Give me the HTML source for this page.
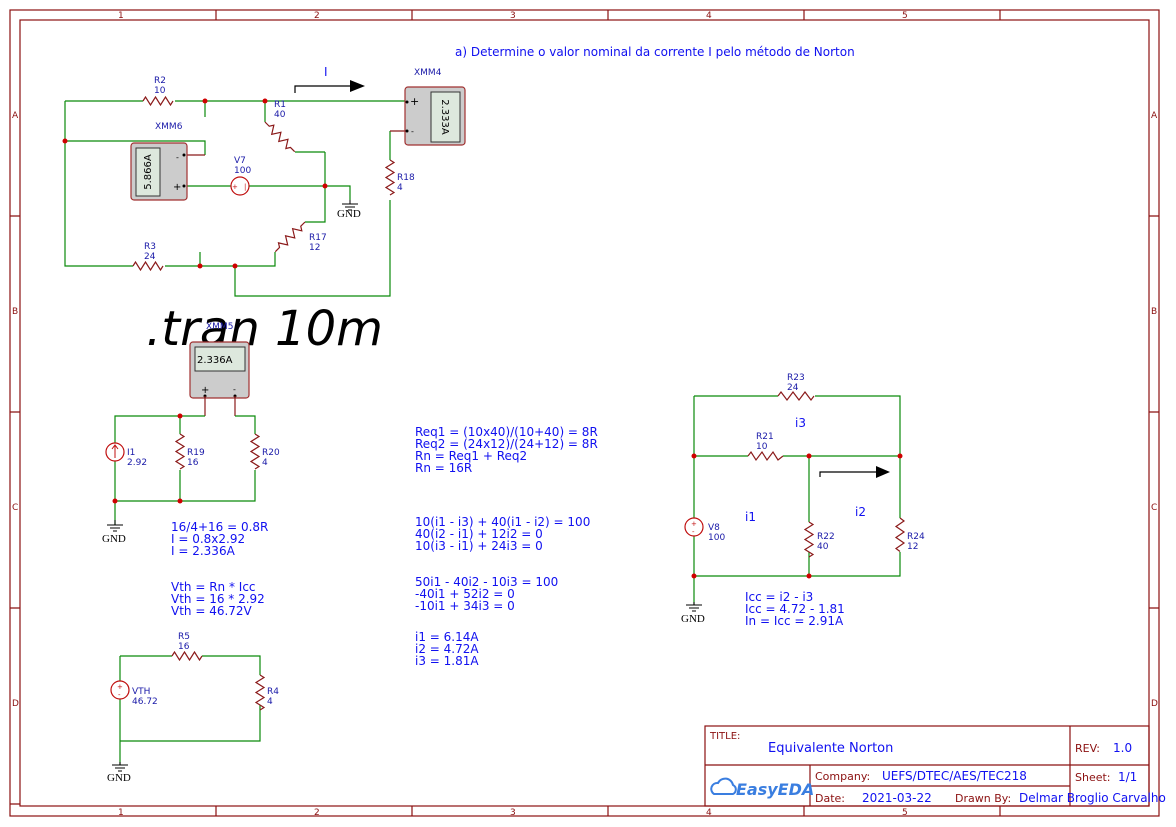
<!DOCTYPE html>
<html><head><meta charset="utf-8"><style>
html,body{margin:0;padding:0;background:#fff;}
svg{display:block;}
text{font-family:"DejaVu Sans","Liberation Sans",sans-serif;}
.lb{fill:#1a1aa8;font-size:9px;}
.bt{fill:#1010f0;font-size:12px;}
.fr{fill:#8b1010;font-size:9px;}
.w{stroke:#0a8a0a;stroke-width:1.2;fill:none;}
.r{stroke:#8b1a1a;stroke-width:1.2;fill:none;}
.d{fill:#d00000;}
.g{font-family:"Liberation Serif",serif;font-size:11px;fill:#000;}
</style></head><body>
<svg width="1176" height="827" viewBox="0 0 1176 827" xmlns="http://www.w3.org/2000/svg">
<g stroke="#8b1010" fill="none" stroke-width="1.2">
<rect x="10" y="10" width="1149" height="806"/>
<rect x="20" y="20" width="1129" height="786"/>
<path d="M216 10V20M412 10V20M608 10V20M804 10V20M1000 10V20M216 806V816M412 806V816M608 806V816M804 806V816M1000 806V816M10 216H20M10 412H20M10 608H20M10 804H20M1149 216H1159M1149 412H1159M1149 608H1159"/>
<rect x="705" y="726" width="444" height="80"/>
<path d="M705 765H1149M810 786H1070M1070 726V806M810 765V806"/>
</g>
<g class="fr">
<text x="118" y="18">1</text><text x="314" y="18">2</text><text x="510" y="18">3</text><text x="706" y="18">4</text><text x="902" y="18">5</text>
<text x="118" y="815">1</text><text x="314" y="815">2</text><text x="510" y="815">3</text><text x="706" y="815">4</text><text x="902" y="815">5</text>
<text x="12" y="118">A</text><text x="12" y="314">B</text><text x="12" y="510">C</text><text x="12" y="706">D</text>
<text x="1151" y="118">A</text><text x="1151" y="314">B</text><text x="1151" y="510">C</text><text x="1151" y="706">D</text>
<text x="710" y="739" font-size="10">TITLE:</text>
<text x="1075" y="752" font-size="11">REV:</text>
<text x="1075" y="781" font-size="11">Sheet:</text>
<text x="815" y="780" font-size="11">Company:</text>
<text x="815" y="802" font-size="11">Date:</text>
<text x="955" y="802" font-size="11">Drawn By:</text>
</g>
<g fill="#1010f0" font-size="12">
<text x="768" y="752" font-size="13">Equivalente Norton</text>
<text x="1113" y="752">1.0</text>
<text x="1118" y="781">1/1</text>
<text x="882" y="780">UEFS/DTEC/AES/TEC218</text>
<text x="862" y="802">2021-03-22</text>
<text x="1019" y="802">Delmar Broglio Carvalho</text>
</g>
<g fill="none" stroke="#3a7ee0" stroke-width="2"><path d="M714 794a6 6 0 0 1 4-11a8 8 0 0 1 15 2a5 5 0 0 1 0 9z"/></g>
<text x="736" y="795" fill="#3a7ee0" font-size="16" font-style="italic" font-weight="bold">EasyEDA</text>

<text x="455" y="56" class="bt">a) Determine o valor nominal da corrente I pelo método de Norton</text>

<!-- TOP CIRCUIT -->
<path class="w" d="M65 101H143M175 101H405M205 101V117M265 101V122M65 101V266H133M165 266H275V252M200 266V252M235 266V296H390V200M390 160V131M65 141H205V155M325 152V222H305M295 152H325M325 186H350V200M186 186H231M249 186H325"/>
<path class="r" d="M143 101l2.5 -4l5 8l5 -8l5 8l5 -8l5 8l2.5 -4"/>
<path class="r" d="M133 266l2.5 -4l5 8l5 -8l5 8l5 -8l5 8l2.5 -4"/>
<path class="r" d="M390 160l4 2.5l-8 5l8 5l-8 5l8 5l-8 5l8 5l-4 2.5"/>
<path class="r" transform="translate(265,122) rotate(45)" d="M0 0l6 0l2.5 -4l5 8l5 -8l5 8l5 -8l5 8l2.5 -4l6 0"/>
<path class="r" transform="translate(305,222) rotate(135)" d="M0 0l6 0l2.5 -4l5 8l5 -8l5 8l5 -8l5 8l2.5 -4l6 0"/>
<path class="r" d="M182 155H205M182 186H186M390 131H405"/>
<circle class="d" cx="205" cy="101" r="2.5"/><circle class="d" cx="265" cy="101" r="2.5"/><circle class="d" cx="65" cy="141" r="2.5"/>
<circle class="d" cx="325" cy="186" r="2.5"/><circle class="d" cx="200" cy="266" r="2.5"/><circle class="d" cx="235" cy="266" r="2.5"/>
<circle cx="240" cy="186" r="9" fill="#fff" stroke="#c01010" stroke-width="1.2"/>
<text x="232" y="189" fill="#c01010" font-size="7">+</text><text x="244" y="189" fill="#c01010" font-size="7">|</text>
<g stroke="#000" stroke-width="1"><path d="M350 200v4M342 204h16M345 207h10M348 210h4"/></g>
<text x="337" y="217" class="g">GND</text>
<rect x="131" y="143" width="56" height="57" rx="3" fill="#cccccc" stroke="#a03030" stroke-width="1.2"/>
<rect x="136" y="148" width="24" height="48" fill="#dde8dd" stroke="#333"/>
<text transform="translate(151,172) rotate(-90)" text-anchor="middle" font-size="10" fill="#000">5.866A</text>
<circle cx="184" cy="155" r="1.5" fill="#000"/><circle cx="184" cy="186" r="1.5" fill="#000"/>
<text x="176" y="160" font-size="8">-</text><text x="173" y="190" font-size="10">+</text>
<rect x="405" y="87" width="60" height="58" rx="3" fill="#cccccc" stroke="#a03030" stroke-width="1.2"/>
<rect x="431" y="92" width="29" height="50" fill="#dde8dd" stroke="#333"/>
<text transform="translate(442,117) rotate(90)" text-anchor="middle" font-size="10" fill="#000">2.333A</text>
<circle cx="407" cy="102" r="1.5" fill="#000"/><circle cx="407" cy="131" r="1.5" fill="#000"/>
<text x="410" y="105" font-size="11">+</text><text x="411" y="134" font-size="8">-</text>
<path d="M295 93V86H352" stroke="#000" stroke-width="1.2" fill="none"/><path d="M350 80L365 86L350 92z" fill="#000"/>
<text x="324" y="76" class="bt" font-size="11">I</text>
<g class="lb">
<text x="154" y="83">R2</text><text x="154" y="93">10</text>
<text x="155" y="129">XMM6</text>
<text x="234" y="163">V7</text><text x="234" y="173">100</text>
<text x="274" y="107">R1</text><text x="274" y="117">40</text>
<text x="414" y="75">XMM4</text>
<text x="397" y="180">R18</text><text x="397" y="190">4</text>
<text x="309" y="240">R17</text><text x="309" y="250">12</text>
<text x="144" y="249">R3</text><text x="144" y="259">24</text>
</g>

<text x="146" y="345" font-size="48" font-style="italic" fill="#000" textLength="237" lengthAdjust="spacingAndGlyphs">.tran 10m</text>

<text x="206" y="329" class="lb">XMM5</text>
<rect x="190" y="342" width="59" height="56" rx="3" fill="#cccccc" stroke="#a03030" stroke-width="1.2"/>
<rect x="195" y="347" width="50" height="24" fill="#dde8dd" stroke="#333"/>
<text x="197" y="363" font-size="10" fill="#000">2.336A</text>
<text x="201" y="393" font-size="10">+</text><text x="233" y="392" font-size="8">-</text>
<circle cx="205" cy="396" r="1.5" fill="#000"/><circle cx="235" cy="396" r="1.5" fill="#000"/>
<path class="r" d="M205 396V416M235 396V416"/>
<path class="w" d="M205 416H115V443M115 461V525M235 416H255V434M255 470V501H115M180 416V434M180 470V501"/>
<path class="r" d="M180 434l4 2.5l-8 5l8 5l-8 5l8 5l-8 5l8 5l-4 2.5M255 434l4 2.5l-8 5l8 5l-8 5l8 5l-8 5l8 5l-4 2.5"/>
<circle cx="115" cy="452" r="9" fill="#fff" stroke="#c01010" stroke-width="1.2"/>
<path d="M115 458V446M112 449L115 445L118 449" stroke="#c01010" fill="none"/>
<circle class="d" cx="180" cy="416" r="2.5"/><circle class="d" cx="180" cy="501" r="2.5"/><circle class="d" cx="115" cy="501" r="2.5"/>
<g stroke="#000" stroke-width="1"><path d="M115 520v5M107 525h16M110 528h10M113 531h4"/></g>
<text x="102" y="542" class="g">GND</text>
<g class="lb"><text x="127" y="455">I1</text><text x="127" y="465">2.92</text>
<text x="187" y="455">R19</text><text x="187" y="465">16</text>
<text x="262" y="455">R20</text><text x="262" y="465">4</text></g>

<g class="bt">
<text x="171" y="531">16/4+16 = 0.8R</text><text x="171" y="543">I = 0.8x2.92</text><text x="171" y="555">I = 2.336A</text>
<text x="171" y="591">Vth = Rn * Icc</text><text x="171" y="603">Vth = 16 * 2.92</text><text x="171" y="615">Vth = 46.72V</text>
<text x="415" y="436">Req1 = (10x40)/(10+40) = 8R</text><text x="415" y="448">Req2 = (24x12)/(24+12) = 8R</text><text x="415" y="460">Rn = Req1 + Req2</text><text x="415" y="472">Rn = 16R</text>
<text x="415" y="526">10(i1 - i3) + 40(i1 - i2) = 100</text><text x="415" y="538">40(i2 - i1) + 12i2 = 0</text><text x="415" y="550">10(i3 - i1) + 24i3 = 0</text>
<text x="415" y="586">50i1 - 40i2 - 10i3 = 100</text><text x="415" y="598">-40i1 + 52i2 = 0</text><text x="415" y="610">-10i1 + 34i3 = 0</text>
<text x="415" y="641">i1 = 6.14A</text><text x="415" y="653">i2 = 4.72A</text><text x="415" y="665">i3 = 1.81A</text>
<text x="745" y="601">Icc = i2 - i3</text><text x="745" y="613">Icc = 4.72 - 1.81</text><text x="745" y="625">In = Icc = 2.91A</text>
<text x="795" y="427">i3</text><text x="745" y="521">i1</text><text x="855" y="516">i2</text>
</g>

<path class="w" d="M120 656H172M202 656H260V675M260 705V741H120V699M120 681V656M120 741V765"/>
<path class="r" d="M172 656l2.5 -4l5 8l5 -8l5 8l5 -8l5 8l2.5 -4M260 675l4 2.5l-8 5l8 5l-8 5l8 5l-8 5l8 5l-4 2.5"/>
<circle cx="120" cy="690" r="9" fill="#fff" stroke="#c01010" stroke-width="1.2"/>
<text x="117" y="689" fill="#c01010" font-size="7">+</text><text x="118" y="697" fill="#c01010" font-size="7">-</text>
<g stroke="#000" stroke-width="1"><path d="M120 762v3M112 765h16M115 768h10M118 771h4"/></g>
<text x="107" y="781" class="g">GND</text>
<g class="lb"><text x="178" y="639">R5</text><text x="178" y="649">16</text>
<text x="132" y="694">VTH</text><text x="132" y="704">46.72</text>
<text x="267" y="694">R4</text><text x="267" y="704">4</text></g>

<path class="w" d="M694 396H778M815 396H900V518M900 552V576H694V536M694 518V396M694 456H748M783 456H900M809 456V522M809 552V576M694 576V605"/>
<path class="r" d="M778 396l3 -4l6 8l6 -8l6 8l6 -8l6 8l3 -4M748 456l3 -4l5 8l6 -8l5 8l6 -8l5 8l5 -4"/>
<path class="r" d="M809 522l4 2.5l-8 5l8 5l-8 5l8 5l-8 5l8 5l-4 2.5M900 518l4 3l-8 5.5l8 5.5l-8 5.5l8 5.5l-8 5.5l4 3"/>
<circle cx="694" cy="527" r="9" fill="#fff" stroke="#c01010" stroke-width="1.2"/>
<text x="691" y="526" fill="#c01010" font-size="7">+</text><text x="692" y="534" fill="#c01010" font-size="7">-</text>
<circle class="d" cx="694" cy="456" r="2.5"/><circle class="d" cx="809" cy="456" r="2.5"/><circle class="d" cx="900" cy="456" r="2.5"/>
<circle class="d" cx="694" cy="576" r="2.5"/><circle class="d" cx="809" cy="576" r="2.5"/>
<path d="M820 477V472H877" stroke="#000" stroke-width="1.2" fill="none"/><path d="M876 466L890 472L876 478z" fill="#000"/>
<g stroke="#000" stroke-width="1"><path d="M694 602v3M686 605h16M689 608h10M692 611h4"/></g>
<text x="681" y="622" class="g">GND</text>
<g class="lb"><text x="787" y="380">R23</text><text x="787" y="390">24</text>
<text x="756" y="439">R21</text><text x="756" y="449">10</text>
<text x="708" y="530">V8</text><text x="708" y="540">100</text>
<text x="817" y="539">R22</text><text x="817" y="549">40</text>
<text x="907" y="539">R24</text><text x="907" y="549">12</text></g>
</svg>
</body></html>
